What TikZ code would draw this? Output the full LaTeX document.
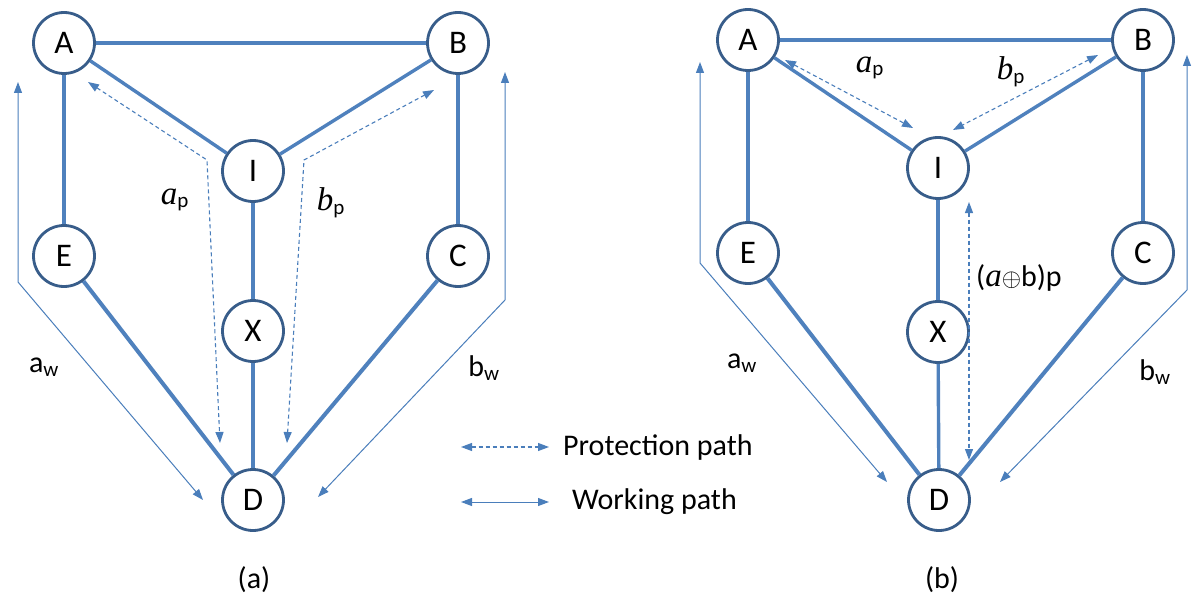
\documentclass[tikz,border=0pt]{standalone}
\usepackage{fontspec}
\setmainfont{Carlito}
\newfontfamily\itserif{Liberation Serif}
\usetikzlibrary{arrows.meta}
\definecolor{edgeblue}{RGB}{79,129,189}
\definecolor{nodeblue}{RGB}{56,93,138}
\definecolor{pathblue}{RGB}{74,126,187}
\newcommand{\itl}[1]{{\itserif\itshape\fontsize{33}{38}\selectfont #1}}
\begin{document}
\begin{tikzpicture}[x=1pt,y=-1pt,
  vtx/.style={circle,draw=nodeblue,line width=2.8pt,fill=white,minimum size=61pt,inner sep=0pt,font=\fontsize{33}{38}\selectfont},
  link/.style={edgeblue,line width=3.4pt},
  thicklink/.style={edgeblue,line width=4pt},
  >={Triangle[length=11pt,width=8pt]},
  work/.style={pathblue,line width=1pt,<->},
  prot/.style={pathblue,line width=1.1pt,dash pattern=on 4pt off 3pt,<->},
  lbl/.style={font=\fontsize{30}{36}\selectfont,inner sep=0pt}]
\useasboundingbox (0,0) rectangle (1192,599);

% ---------- panel (a) ----------
\node[vtx] (aA) at (64,43) {A};
\node[vtx] (aB) at (458,43) {B};
\node[vtx] (aI) at (253,171) {I};
\node[vtx] (aE) at (64,256) {E};
\node[vtx] (aC) at (458,256) {C};
\node[vtx] (aX) at (253,331) {X};
\node[vtx] (aD) at (253,500) {D};

\draw[link] (aA) -- (aB);
\draw[link] (aA) -- (aE);
\draw[link] (aA) -- (aI);
\draw[link] (aB) -- (aI);
\draw[link] (aB) -- (aC);
\draw[link] (aI) -- (aX);
\draw[link] (aX) -- (aD);
\draw[thicklink] (aE) -- (aD);
\draw[thicklink] (aC) -- (aD);

\coordinate (awT) at (18,82);
\coordinate (awC) at (18,282);
\coordinate (awE) at (203,500);
\coordinate (bwT) at (505,72);
\coordinate (bwC) at (505,300);
\coordinate (bwE) at (318,497);
\draw[work] (awT) -- (awC) -- (awE);
\draw[work] (bwT) -- (bwC) -- (bwE);

\coordinate (apT) at (88,82);
\coordinate (apC) at (207,160);
\coordinate (apE) at (220,443);
\coordinate (bpT) at (434,90);
\coordinate (bpC) at (304,160);
\coordinate (bpE) at (287,443);
\draw[prot] (apT) -- (apC) -- (apE);
\draw[prot] (bpT) -- (bpC) -- (bpE);

\node[lbl] (aapl) at (175,200) {\itl{a}\textsubscript{p}};
\node[lbl] (abpl) at (331,203) {\itl{b}\textsubscript{p}};
\node[lbl] (aawl) at (44,367) {a\textsubscript{w}};
\node[lbl] (abwl) at (484,368) {b\textsubscript{w}};
\node[lbl] (acap) at (254,580) {(a)};

% ---------- legend ----------
\coordinate (lpS) at (461,447);
\coordinate (lpE) at (549,447);
\coordinate (lwS) at (461,502);
\coordinate (lwE) at (549,502);
\draw[prot] (lpS) -- (lpE);
\draw[work] (lwS) -- (lwE);
\node[lbl,anchor=west] (lpt) at (563,447) {Protection path};
\node[lbl,anchor=west] (lwt) at (572,502) {Working path};

% ---------- panel (b) ----------
\node[vtx] (bA) at (748,40) {A};
\node[vtx] (bB) at (1143,40) {B};
\node[vtx] (bI) at (938,168) {I};
\node[vtx] (bE) at (748,253) {E};
\node[vtx] (bC) at (1143,253) {C};
\node[vtx] (bX) at (938,332) {X};
\node[vtx] (bD) at (939,500) {D};

\draw[link] (bA) -- (bB);
\draw[link] (bA) -- (bE);
\draw[link] (bA) -- (bI);
\draw[link] (bB) -- (bI);
\draw[link] (bB) -- (bC);
\draw[link] (bI) -- (bX);
\draw[link] (bX) -- (bD);
\draw[thicklink] (bE) -- (bD);
\draw[thicklink] (bC) -- (bD);

\coordinate (bawT) at (700,62);
\coordinate (bawC) at (700,263);
\coordinate (bawE) at (887,482);
\coordinate (bbwT) at (1187,55);
\coordinate (bbwC) at (1187,290);
\coordinate (bbwE) at (1000,482);
\draw[work] (bawT) -- (bawC) -- (bawE);
\draw[work] (bbwT) -- (bbwC) -- (bbwE);

\coordinate (bapS) at (785,60);
\coordinate (bapE) at (913,128);
\coordinate (bbpS) at (1098,55);
\coordinate (bbpE) at (953,130);
\coordinate (bxpS) at (969,202);
\coordinate (bxpE) at (969,460);
\draw[prot] (bapS) -- (bapE);
\draw[prot] (bbpS) -- (bbpE);
\draw[prot] (bxpS) -- (bxpE);

\node[lbl] (bapl) at (870,68) {\itl{a}\textsubscript{p}};
\node[lbl] (bbpl) at (1011,72) {\itl{b}\textsubscript{p}};
\node[lbl,anchor=west] (bxl) at (976,278) {(\itl{a}{\fontsize{32}{38}\selectfont${\oplus}$}b)p};
\node[lbl] (bawl) at (742,363) {a\textsubscript{w}};
\node[lbl] (bbwl) at (1155,372) {b\textsubscript{w}};
\node[lbl] (bcap) at (942,580) {(b)};
\end{tikzpicture}
\end{document}
